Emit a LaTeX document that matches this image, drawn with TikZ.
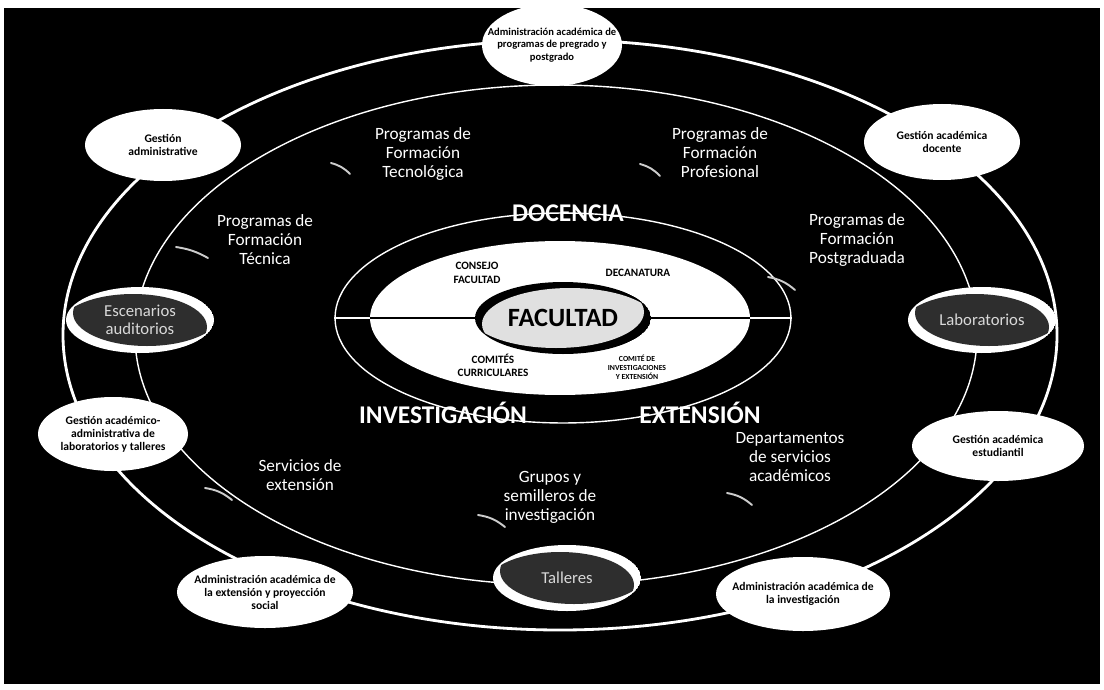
\documentclass[tikz,border=0pt]{standalone}
\usepackage{fontspec}
\setmainfont{Carlito}
\usetikzlibrary{shapes.geometric}
\usetikzlibrary{positioning}

\tikzset{
  ovaltext/.style={text=black, font=\fontsize{6.6}{7.4}\selectfont\bfseries, align=center, inner sep=0pt},
  progtext/.style={text=white, font=\fontsize{9.8}{10.8}\selectfont, align=center},
  areatext/.style={text=white, font=\fontsize{14.5}{16}\selectfont\bfseries},
  fieldtext/.style={text=black, font=\fontsize{6.4}{7.6}\selectfont\bfseries, align=center},
  swirltext/.style={text=white!85!black, font=\fontsize{9.5}{10.5}\selectfont, align=center},
  swoosh/.style={white!80!black, line width=1.1pt, line cap=round},
}

\begin{document}
\begin{tikzpicture}[x=0.02cm, y=-0.02cm]
\useasboundingbox (0,0) rectangle (1104,689);
\fill[white] (0,0) rectangle (1104,689);
\fill[black] (4,8) rectangle (1100,684);

% anillos
\draw[white, line width=1.6pt] (560,335) ellipse [x radius=497, y radius=295];
\draw[white, line width=0.8pt] (556,335) ellipse [x radius=421, y radius=250];

% facultad
\node[ellipse, draw=white, line width=0.8pt, minimum width=9.12cm, minimum height=4.2cm] (ring) at (563,318) {};
\draw[white, line width=0.8pt] (ring.west) -- (ring.east);
\node[ellipse, fill=white, minimum width=7.6cm, minimum height=3.08cm] (field) at (560,318) {};
\draw[black, line width=0.8pt] (field.west) -- (field.east);

\begin{scope}
\clip (563,318) ellipse [x radius=88, y radius=36];
\fill[black] (563,318) ellipse [x radius=88, y radius=36];
\clip (570,324) ellipse [x radius=88, y radius=36];
\fill[black!12] (556,312) ellipse [x radius=88, y radius=36];
\end{scope}
\node[text=black, font=\fontsize{15}{15}\selectfont\bfseries] (facultad) at (563,318) {FACULTAD};

\node[fieldtext] (consejo) at (477,273) {CONSEJO\\FACULTAD};
\node[fieldtext] (decanatura) at (638,273) {DECANATURA};
\node[fieldtext] (comites) at (493,365) {COMITÉS\\CURRICULARES};
\node[fieldtext, font=\fontsize{4.4}{5.2}\selectfont\bfseries] (comite) at (637,367) {COMITÉ DE\\INVESTIGACIONES\\Y EXTENSIÓN};

% programas
\node[progtext] (tecnologica) at (423,154) {Programas de\\Formación\\Tecnológica};
\node[progtext] (profesional) at (720,153) {Programas de\\Formación\\Profesional};
\node[progtext] (tecnica) at (265,240) {Programas de\\Formación\\Técnica};
\node[progtext] (postgrado) at (857,240) {Programas de\\Formación\\Postgraduada};
\node[progtext] (servicios) at (300,475) {Servicios de\\extensión};
\node[progtext] (grupos) at (550,497) {Grupos y\\semilleros de\\investigación};
\node[progtext] (departamentos) at (790,457) {Departamentos\\de servicios\\académicos};

\draw[swoosh] (331,163) to[bend left=15] (350,174);
\draw[swoosh] (640,164) to[bend left=15] (660,176);
\draw[swoosh] (176,247) to[bend left=10] (208,258);
\draw[swoosh] (768,277) to[bend left=15] (795,290);
\draw[swoosh] (205,488) to[bend left=15] (232,500);
\draw[swoosh] (478,515) to[bend left=15] (505,527);
\draw[swoosh] (727,493) to[bend left=15] (752,505);

\node[areatext] (docencia) at (568,213) {DOCENCIA};
\node[areatext] (investigacion) at (443,413) {INVESTIGACIÓN};
\node[areatext] (extension) at (700,413) {EXTENSIÓN};

% recursos
\foreach \cx/\cy/\nm/\txt in {140/320/escenarios/{Escenarios\\auditorios}, 982/320/laboratorios/Laboratorios, 567/578/talleres/Talleres}{
  \begin{scope}
  \clip (\cx,\cy) ellipse [x radius=74, y radius=33];
  \fill[white] (\cx,\cy) ellipse [x radius=74, y radius=33];
  \clip ({\cx+7},{\cy-7}) ellipse [x radius=74, y radius=33];
  \fill[black!82] ({\cx-7},{\cy+7}) ellipse [x radius=74, y radius=33];
  \end{scope}
  \node[swirltext] (\nm) at (\cx,\cy) {\txt};
}

% gestion
\fill[white] (552,45) ellipse [x radius=70, y radius=41];
\node[ovaltext, font=\fontsize{6}{7.2}\selectfont\bfseries] (pregrado) at (552,45) {Administración académica de\\programas de pregrado y\\postgrado};
\fill[white] (163,145) ellipse [x radius=78, y radius=36];
\node[ovaltext] (gadministrativa) at (163,145) {Gestión\\administrative};
\fill[white] (942,142) ellipse [x radius=78, y radius=38];
\node[ovaltext] (gdocente) at (942,142) {Gestión académica\\docente};
\fill[white] (113,434) ellipse [x radius=75, y radius=37];
\node[ovaltext] (glaboratorios) at (113,434) {Gestión académico-\\administrativa de\\laboratorios y talleres};
\fill[white] (998,446) ellipse [x radius=86, y radius=35];
\node[ovaltext] (gestudiantil) at (998,446) {Gestión académica\\estudiantil};
\fill[white] (265,592) ellipse [x radius=88, y radius=36];
\node[ovaltext] (aextension) at (265,592) {Administración académica de\\la extensión y proyección\\social};
\fill[white] (803,594) ellipse [x radius=87, y radius=37];
\node[ovaltext] (ainvestigacion) at (803,594) {Administración académica de\\la investigación};

\end{tikzpicture}
\end{document}
